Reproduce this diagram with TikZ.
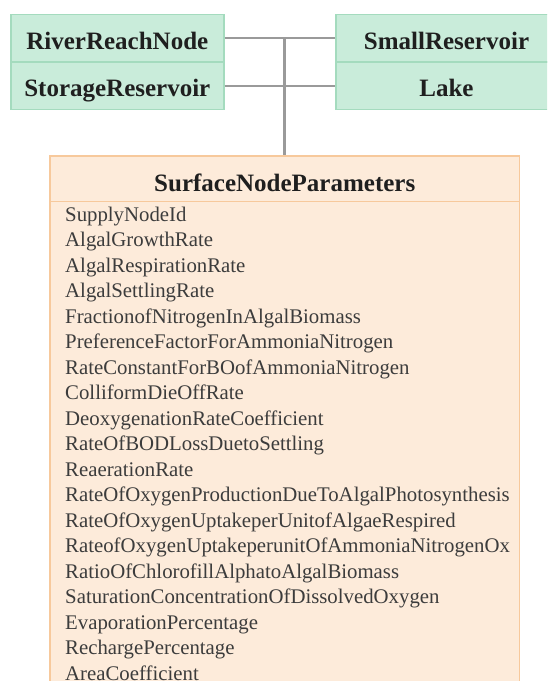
\documentclass[tikz,border=0pt]{standalone}
\usepackage{fontspec}
\setmainfont{Liberation Serif}
\usetikzlibrary{calc}
\definecolor{gfill}{HTML}{C9ECDA}
\definecolor{gdraw}{HTML}{A4DBBE}
\definecolor{ofill}{HTML}{FDEBDA}
\definecolor{odraw}{HTML}{F7C99C}
\definecolor{linegray}{HTML}{9A9A9A}
\definecolor{txt}{HTML}{3C3C3C}
\begin{document}
\begin{tikzpicture}[x=1pt,y=-1pt,
  lbox/.style={rectangle, draw=gdraw, fill=gfill, line width=1.5pt, inner sep=0pt, minimum width=213pt, minimum height=47.5pt},
  rbox/.style={lbox, minimum width=221pt},
  obox/.style={rectangle, draw=odraw, fill=ofill, line width=1.5pt, inner sep=0pt, minimum width=469.5pt, minimum height=560pt, anchor=north},
  btext/.style={anchor=base, inner sep=0pt, font=\fontsize{25}{30}\selectfont\bfseries, text=black!88},
  item/.style={anchor=base west, inner sep=0pt, font=\fontsize{20.8}{24}\selectfont, text=txt},
  hconn/.style={draw=linegray, line width=2pt},
  vconn/.style={draw=linegray, line width=3pt}]
\useasboundingbox (0,0) rectangle (547,681);
\clip (0,0) rectangle (547,681);
% green boxes
\node[lbox] (rrn) at (117.3,38) {};
\node[lbox] (stor) at (117.3,85.5) {};
\node[rbox] (small) at (446.5,38) {};
\node[rbox] (lake) at (446.5,85.5) {};
\node[btext] (rrnt) at (117.3,49.3) {RiverReachNode};
\node[btext] (stort) at (117.3,96.7) {StorageReservoir};
\node[btext] (smallt) at (446.5,49.3) {SmallReservoir};
\node[btext] (laket) at (446.5,96.7) {Lake};
% orange box
\node[obox] (snp) at (284.75,155) {};
\draw[draw=odraw, line width=1.5pt] ($(snp.north west)+(0,46.7)$) -- ($(snp.north east)+(0,46.7)$);
\node[btext] (snpt) at (284.75,191.7) {SurfaceNodeParameters};
% connectors
\draw[hconn] (rrn.east) -- (small.west);
\draw[hconn] (stor.east) -- (lake.west);
\coordinate (j) at (rrn.east -| snp.north);
\draw[vconn] (j) -- (snp.north);
% attributes
\foreach \t [count=\i from 0] in {SupplyNodeId, AlgalGrowthRate, AlgalRespirationRate, AlgalSettlingRate, FractionofNitrogenInAlgalBiomass, PreferenceFactorForAmmoniaNitrogen, RateConstantForBOofAmmoniaNitrogen, ColliformDieOffRate, DeoxygenationRateCoefficient, RateOfBODLossDuetoSettling, ReaerationRate, RateOfOxygenProductionDueToAlgalPhotosynthesis, RateOfOxygenUptakeperUnitofAlgaeRespired, RateofOxygenUptakeperunitOfAmmoniaNitrogenOx, RatioOfChlorofillAlphatoAlgalBiomass, SaturationConcentrationOfDissolvedOxygen, EvaporationPercentage, RechargePercentage, AreaCoefficient}
  \node[item] (p\i) at (65,221+25.5*\i) {\t};
\end{tikzpicture}
\end{document}
